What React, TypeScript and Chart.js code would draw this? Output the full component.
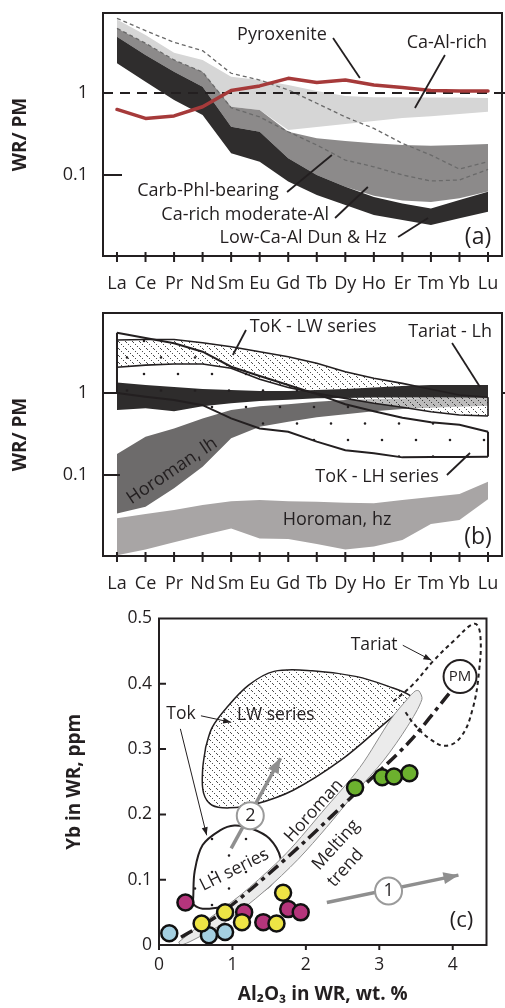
import React, { useEffect, useRef } from "react";
import { Chart, registerables } from "chart.js";

Chart.register(...registerables);

const FONT = "'Open Sans', 'Noto Sans', 'DejaVu Sans', sans-serif";
const INK = "#231f20";
const RED = "#a63a3a";

// ---------------- categories ----------------
const REE = ["La", "Ce", "Pr", "Nd", "Sm", "Eu", "Gd", "Tb", "Dy", "Ho", "Er", "Tm", "Yb", "Lu"];

// ---------------- panel (a): WR / PM ----------------
const pyroxenite = [0.63, 0.49, 0.525, 0.68, 1.07, 1.22, 1.51, 1.34, 1.44, 1.25, 1.17, 1.07, 1.06, 1.06];
const caAlRichTop = [7.9, 5.1, 3.1, 2.53, 1.58, 1.44, 1.25, 1.06, 0.92, 0.89, 0.89, 0.88, 0.88, 0.87];
const caAlRichBottom = [6.15, 4.04, 2.53, 1.82, 0.68, 0.62, 0.354, 0.385, 0.42, 0.455, 0.495, 0.52, 0.555, 0.59];
const caRichModTop = [6.15, 4.04, 2.53, 1.82, 0.68, 0.62, 0.337, 0.28, 0.26, 0.244, 0.232, 0.228, 0.232, 0.239];
const caRichModBottom = [4.86, 2.91, 1.82, 1.19, 0.388, 0.337, 0.16, 0.1, 0.072, 0.056, 0.049, 0.047, 0.052, 0.063];
const lowCaAlTop = [4.86, 2.91, 1.82, 1.19, 0.388, 0.337, 0.16, 0.1, 0.072, 0.054, 0.045, 0.039, 0.0496, 0.0626];
const lowCaAlBottom = [2.3, 1.37, 0.82, 0.54, 0.184, 0.145, 0.083, 0.057, 0.043, 0.0325, 0.0283, 0.0246, 0.0297, 0.0357];
const carbPhlUpper = [8.15, 5.75, 4.15, 3.28, 1.74, 1.44, 1.09, 0.75, 0.51, 0.37, 0.243, 0.175, 0.118, 0.145];
const carbPhlLower = [6.15, 4.04, 2.53, 1.8, 0.66, 0.51, 0.337, 0.232, 0.152, 0.126, 0.1, 0.0845, 0.087, 0.117];
const PM_LEVEL = 1;

// ---------------- panel (b) ----------------
const tariatTop = [1.34, 1.25, 1.18, 1.12, 1.09, 1.06, 1.06, 1.09, 1.12, 1.17, 1.22, 1.25, 1.25, 1.25];
const tariatBottom = [0.62, 0.65, 0.6, 0.69, 0.75, 0.8, 0.83, 0.86, 0.87, 0.88, 0.88, 0.88, 0.88, 0.876];
const horomanLhTop = [0.18, 0.293, 0.37, 0.49, 0.62, 0.69, 0.73, 0.78, 0.82, 0.845, 0.857, 0.87, 0.88, 0.894];
const horomanLhBottom = [0.034, 0.041, 0.069, 0.126, 0.28, 0.388, 0.447, 0.506, 0.55, 0.6, 0.64, 0.66, 0.68, 0.7];
const horomanHzTop = [0.0296, 0.0334, 0.0374, 0.043, 0.048, 0.0496, 0.048, 0.0472, 0.046, 0.0452, 0.0496, 0.054, 0.0587, 0.083];
const horomanHzBottom = [0.0105, 0.0123, 0.0151, 0.0184, 0.0223, 0.0168, 0.0166, 0.0144, 0.0123, 0.0134, 0.0161, 0.0253, 0.0283, 0.0505];
const lwTop = [4.43, 4.5, 4.5, 4.1, 3.67, 3.19, 2.77, 2.3, 1.82, 1.51, 1.31, 1.11, 0.945, 0.887];
const lwBottom = [2.06, 2.19, 2.26, 2.26, 2.0, 1.47, 1.17, 0.99, 0.86, 0.75, 0.67, 0.59, 0.54, 0.525];
const lhTop = [5.44, 4.69, 4.04, 3.19, 2.09, 1.61, 1.25, 0.97, 0.73, 0.6, 0.5, 0.44, 0.41, 0.337];
const lhBottom = [1.0, 0.9, 0.82, 0.71, 0.49, 0.37, 0.337, 0.255, 0.2, 0.184, 0.164, 0.166, 0.166, 0.167];

// ---------------- panel (c): Yb vs Al2O3 ----------------
const blueAl = [0.14, 0.68, 0.9];
const blueYb = [0.018, 0.015, 0.02];
const magentaAl = [0.36, 1.16, 1.42, 1.76, 1.93];
const magentaYb = [0.065, 0.05, 0.035, 0.055, 0.05];
const yellowAl = [0.58, 0.9, 1.13, 1.6, 1.69];
const yellowYb = [0.033, 0.05, 0.035, 0.033, 0.08];
const greenAl = [2.67, 3.04, 3.2, 3.41];
const greenYb = [0.241, 0.257, 0.258, 0.263];

const lwFieldAl = [0.636, 0.594, 0.606, 0.723, 0.961, 1.308, 1.827, 2.477, 3.039, 3.408, 3.421, 3.126, 2.694, 2.087, 1.567, 1.221, 0.918, 0.723];
const lwFieldYb = [0.303, 0.268, 0.233, 0.214, 0.21, 0.2155, 0.237, 0.283, 0.336, 0.373, 0.382, 0.396, 0.411, 0.42, 0.419, 0.398, 0.363, 0.333];
const lhFieldAl = [0.466, 0.486, 0.594, 0.831, 1.026, 1.265, 1.503, 1.655, 1.61, 1.48, 1.178, 0.853, 0.594, 0.466];
const lhFieldYb = [0.0726, 0.113, 0.153, 0.1755, 0.183, 0.178, 0.163, 0.133, 0.108, 0.0877, 0.0707, 0.0586, 0.0556, 0.063];
const horomanAl = [0.269, 0.555, 1.113, 1.594, 1.853, 2.217, 2.736, 3.165, 3.386, 3.49, 3.541, 3.58, 3.385, 3.061, 2.671, 2.281, 1.892, 1.438, 0.892, 0.463, 0.295];
const horomanYb = [0.0045, 0.03, 0.0767, 0.1248, 0.1549, 0.203, 0.272, 0.347, 0.377, 0.389, 0.389, 0.376, 0.335, 0.283, 0.233, 0.18, 0.131, 0.0827, 0.0346, 0.0075, 0.0];
const tariatAl = [3.191, 3.45, 3.736, 4.035, 4.295, 4.373, 4.36, 4.27, 4.113, 3.906, 3.684, 3.477, 3.347];
const tariatYb = [0.373, 0.398, 0.435, 0.468, 0.492, 0.477, 0.421, 0.361, 0.319, 0.305, 0.316, 0.338, 0.358];
const meltAl = [0.3, 0.8, 1.3, 2.0, 2.7, 3.4, 3.95];
const meltYb = [0.012, 0.045, 0.09, 0.16, 0.235, 0.31, 0.385];
const pmAl = [4.1];
const pmYb = [0.411];

// ---------------- axes ----------------
const REE_X_MIN = -0.49;
const REE_X_MAX = 13.49;
const LOG_MIN = 0.01028;
const LOG_MAX = 9.454;
const LOG_TICKS = [0.1, 1];
const AL_MIN = 0;
const AL_MAX = 4.46;
const AL_TICKS = [0, 1, 2, 3, 4];
const YB_MIN = 0;
const YB_MAX = 0.5;
const YB_TICKS = [0, 0.1, 0.2, 0.3, 0.4, 0.5];

// ---------------- annotations (data coordinates) ----------------
const leadersA = [
  [7.57, 4.69, 8.51, 1.52],
  [11.49, 2.91, 10.44, 0.656],
  [5.96, 0.0621, 7.53, 0.175],
  [7.64, 0.0299, 8.79, 0.0714],
  [9.85, 0.01754, 10.9, 0.0299],
];
const textsA = [
  { t: "Pyroxenite", x: 5.78, y: 5.1 },
  { t: "Ca-Al-rich", x: 11.56, y: 4.07 },
  { t: "Carb-Phl-bearing", x: 3.19, y: 0.0638 },
  { t: "Ca-rich moderate-Al", x: 4.49, y: 0.0325 },
  { t: "Low-Ca-Al Dun & Hz", x: 6.52, y: 0.0171 },
  { t: "(a)", x: 12.65, y: 0.0171, size: 23 },
];
const leadersB = [
  [4.52, 5.86, 4.06, 2.91],
  [11.74, 4.07, 12.72, 1.18],
  [11.56, 0.1, 12.37, 0.1855],
];
const textsB = [
  { t: "ToK - LW series", x: 6.87, y: 6.44 },
  { t: "Tariat - Lh", x: 11.67, y: 5.6 },
  { t: "ToK - LH series", x: 9.11, y: 0.0953 },
  { t: "Horoman, lh", x: 1.93, y: 0.112, rot: -34 },
  { t: "Horoman, hz", x: 7.71, y: 0.0283 },
  { t: "(b)", x: 12.65, y: 0.0171, size: 23 },
];
const grayArrowsC = [
  [2.286, 0.065, 4.078, 0.107],
  [0.983, 0.148, 1.655, 0.286],
];
const stepMarksC = [
  { t: "1", x: 3.126, y: 0.0827 },
  { t: "2", x: 1.243, y: 0.198 },
];
const leaderArrowsC = [
  [3.32, 0.459, 3.71, 0.436],
  [0.571, 0.351, 0.983, 0.341],
  [0.291, 0.331, 0.649, 0.168],
];
const textsC = [
  { t: "Tariat", x: 2.93, y: 0.459 },
  { t: "Tok", x: 0.3, y: 0.353 },
  { t: "LW series", x: 1.59, y: 0.352 },
  { t: "LH series", x: 1.026, y: 0.115, rot: -26.6 },
  { t: "Horoman", x: 2.109, y: 0.2056, rot: -48 },
  { t: "Melting", x: 2.41, y: 0.153, rot: -48 },
  { t: "trend", x: 2.54, y: 0.118, rot: -48 },
  { t: "(c)", x: 4.12, y: 0.0365, size: 22 },
  { t: "PM", x: pmAl[0], y: pmYb[0], size: 15 },
  { t: "1", x: 3.126, y: 0.0827, size: 18 },
  { t: "2", x: 1.243, y: 0.198, size: 18 },
];

// ---------------- helpers ----------------
const ree = (vals: number[]) => vals.map((y, i) => ({ x: i, y }));
const xy = (xs: number[], ys: number[]) => xs.map((x, i) => ({ x, y: ys[i] }));
const closed = (xs: number[], ys: number[]) => {
  const p = xy(xs, ys);
  return [...p, p[0]];
};

function makeDS() {
  const list: any[] = [];
  const add = (data: any[], o: any = {}) => {
    list.push({
      type: "line",
      data,
      pointRadius: 0,
      pointHoverRadius: 0,
      borderWidth: 0,
      borderColor: "transparent",
      backgroundColor: "transparent",
      fill: false,
      tension: 0,
      ...o,
      order: 1000 - list.length,
    });
    return list.length - 1;
  };
  const band = (top: number[], bottom: number[], color: any) => {
    const bi = add(ree(bottom));
    add(ree(top), { fill: bi, backgroundColor: color });
  };
  return { list, add, band };
}

function hatch(ctx: CanvasRenderingContext2D, bg: string | null) {
  const c = document.createElement("canvas");
  c.width = 7;
  c.height = 7;
  const g = c.getContext("2d")!;
  if (bg) {
    g.fillStyle = bg;
    g.fillRect(0, 0, 7, 7);
  }
  g.fillStyle = "rgba(30,30,30,0.8)";
  for (let i = 0; i < 7; i += 2) g.fillRect(i, i, 1, 1);
  return ctx.createPattern(c, "repeat");
}

function dotPattern(ctx: CanvasRenderingContext2D) {
  const c = document.createElement("canvas");
  c.width = 34;
  c.height = 33;
  const g = c.getContext("2d")!;
  g.fillStyle = INK;
  g.beginPath();
  g.arc(8, 8, 1.3, 0, Math.PI * 2);
  g.closePath();
  g.arc(25, 24.5, 1.3, 0, Math.PI * 2);
  g.fill();
  return ctx.createPattern(c, "repeat");
}

function decor(d: any) {
  return {
    id: "decor",
    afterDatasetsDraw(chart: any) {
      const { ctx, chartArea: a } = chart;
      const xs = chart.scales.x;
      const ys = chart.scales.y;
      ctx.save();
      ctx.strokeStyle = INK;
      ctx.lineWidth = 2;
      ctx.strokeRect(a.left, a.top, a.right - a.left, a.bottom - a.top);
      ctx.beginPath();
      for (const v of d.xTicks) {
        const p = xs.getPixelForValue(v);
        ctx.moveTo(p, a.bottom - d.xIn);
        ctx.lineTo(p, a.bottom + d.xOut);
      }
      for (const v of d.yTicks) {
        const p = ys.getPixelForValue(v);
        ctx.moveTo(a.left, p);
        ctx.lineTo(a.left + d.yIn, p);
      }
      for (const v of d.rTicks || []) {
        const p = ys.getPixelForValue(v);
        ctx.moveTo(a.right, p);
        ctx.lineTo(a.right + 5, p);
      }
      ctx.stroke();
      for (const h of d.heads || []) {
        const x1 = xs.getPixelForValue(h.a[0]);
        const y1 = ys.getPixelForValue(h.a[1]);
        const x2 = xs.getPixelForValue(h.a[2]);
        const y2 = ys.getPixelForValue(h.a[3]);
        const ang = Math.atan2(y2 - y1, x2 - x1);
        ctx.fillStyle = h.color;
        ctx.beginPath();
        ctx.moveTo(x2, y2);
        ctx.lineTo(x2 - h.len * Math.cos(ang) + h.half * Math.sin(ang), y2 - h.len * Math.sin(ang) - h.half * Math.cos(ang));
        ctx.lineTo(x2 - h.len * Math.cos(ang) - h.half * Math.sin(ang), y2 - h.len * Math.sin(ang) + h.half * Math.cos(ang));
        ctx.closePath();
        ctx.fill();
      }
      ctx.fillStyle = INK;
      ctx.textAlign = "center";
      ctx.textBaseline = "middle";
      for (const t of d.texts) {
        const px = xs.getPixelForValue(t.x);
        const py = ys.getPixelForValue(t.y);
        ctx.save();
        ctx.translate(px, py);
        if (t.rot) ctx.rotate((t.rot * Math.PI) / 180);
        ctx.font = `${t.bold ? "bold " : ""}${t.size || d.size}px ${FONT}`;
        ctx.fillText(t.t, 0, 0);
        ctx.restore();
      }
      ctx.restore();
    },
  };
}

function baseOptions(padding: any, scales: any) {
  return {
    responsive: false,
    animation: false,
    devicePixelRatio: 1,
    events: [],
    layout: { padding },
    plugins: { legend: { display: false }, tooltip: { enabled: false } },
    scales,
  };
}

const fixX = (h: number) => (s: any) => {
  s.height = h;
  s.paddingLeft = 0;
  s.paddingRight = 0;
  s.paddingTop = 0;
  s.paddingBottom = 0;
};
const fixY = (w: number) => (s: any) => {
  s.width = w;
  s.paddingLeft = 0;
  s.paddingRight = 0;
  s.paddingTop = 0;
  s.paddingBottom = 0;
};

function reeScales() {
  return {
    x: {
      type: "linear",
      min: REE_X_MIN,
      max: REE_X_MAX,
      grid: { display: false, drawTicks: false },
      border: { display: false },
      afterBuildTicks: (s: any) => {
        s.ticks = REE.map((_, i) => ({ value: i }));
      },
      afterFit: fixX(44),
      ticks: {
        autoSkip: false,
        maxRotation: 0,
        minRotation: 0,
        padding: 17,
        color: INK,
        font: { family: FONT, size: 18 },
        callback: (_v: any, i: number) => REE[i],
      },
    },
    y: {
      type: "logarithmic",
      min: LOG_MIN,
      max: LOG_MAX,
      grid: { display: false, drawTicks: false },
      border: { display: false },
      afterBuildTicks: (s: any) => {
        s.ticks = LOG_TICKS.map((v) => ({ value: v }));
      },
      afterFit: fixY(103),
      ticks: {
        padding: 15,
        color: INK,
        font: { family: FONT, size: 18 },
        callback: (v: number) => (v >= 1 ? "1" : "0.1"),
      },
      title: {
        display: true,
        text: "WR/ PM",
        color: INK,
        font: { family: FONT, size: 19, weight: "bold" },
        padding: { top: 9, bottom: 0 },
      },
    },
  };
}

function buildA(ctx: CanvasRenderingContext2D) {
  const d = makeDS();
  d.band(caAlRichTop, caAlRichBottom, "#d6d6d6");
  d.band(caRichModTop, caRichModBottom, "#8c8a8a");
  d.band(lowCaAlTop, lowCaAlBottom, "#2f2d2d");
  d.add(ree(carbPhlUpper), { borderColor: "#6a6a6a", borderWidth: 1.3, borderDash: [4, 3] });
  d.add(ree(carbPhlLower), { borderColor: "#6a6a6a", borderWidth: 1.3, borderDash: [4, 3] });
  d.add(
    [
      { x: REE_X_MIN, y: PM_LEVEL },
      { x: REE_X_MAX, y: PM_LEVEL },
    ],
    { borderColor: INK, borderWidth: 2.2, borderDash: [10, 7] }
  );
  d.add(ree(pyroxenite), { borderColor: RED, borderWidth: 3.5, borderJoinStyle: "round", borderCapStyle: "round" });
  for (const l of leadersA)
    d.add(
      [
        { x: l[0], y: l[1] },
        { x: l[2], y: l[3] },
      ],
      { borderColor: INK, borderWidth: 1.8 }
    );
  return {
    type: "line",
    data: { datasets: d.list },
    options: baseOptions({ top: 13, right: 3, left: 0, bottom: 0 }, reeScales()),
    plugins: [
      decor({ xTicks: REE.map((_, i) => i), xIn: 4, xOut: 6, yTicks: [0.1], yIn: 19, rTicks: [1], texts: textsA, size: 18 }),
    ],
  };
}

function buildB(ctx: CanvasRenderingContext2D) {
  const d = makeDS();
  d.band(horomanHzTop, horomanHzBottom, "#a8a5a5");
  d.band(horomanLhTop, horomanLhBottom, "#6d6b6b");
  d.band(lwTop, lwBottom, hatch(ctx, "rgba(255,255,255,0.55)"));
  d.band(tariatTop, tariatBottom, "#2e2c2c");
  d.band(lhTop, lhBottom, dotPattern(ctx));
  const outline = { borderColor: INK, borderWidth: 1.6 };
  d.add(ree(lwTop), outline);
  d.add(ree(lwBottom), outline);
  d.add(
    [
      { x: 0, y: lwTop[0] },
      { x: 0, y: lwBottom[0] },
    ],
    outline
  );
  d.add(
    [
      { x: 13, y: lwTop[13] },
      { x: 13, y: lwBottom[13] },
    ],
    outline
  );
  const outline2 = { borderColor: INK, borderWidth: 2 };
  d.add(ree(lhTop), outline2);
  d.add(ree(lhBottom), outline2);
  d.add(
    [
      { x: 0, y: lhTop[0] },
      { x: 0, y: lhBottom[0] },
    ],
    outline2
  );
  d.add(
    [
      { x: 13, y: lhTop[13] },
      { x: 13, y: lhBottom[13] },
    ],
    outline2
  );
  for (const l of leadersB)
    d.add(
      [
        { x: l[0], y: l[1] },
        { x: l[2], y: l[3] },
      ],
      { borderColor: INK, borderWidth: 1.8 }
    );
  return {
    type: "line",
    data: { datasets: d.list },
    options: baseOptions({ top: 13, right: 3, left: 0, bottom: 0 }, reeScales()),
    plugins: [
      decor({ xTicks: REE.map((_, i) => i), xIn: 4, xOut: 6, yTicks: [0.1, 1], yIn: 17, rTicks: [1], texts: textsB, size: 18 }),
    ],
  };
}

function buildC(ctx: CanvasRenderingContext2D) {
  const d = makeDS();
  d.add(closed(lwFieldAl, lwFieldYb), { fill: "shape", backgroundColor: hatch(ctx, "#ffffff"), borderColor: INK, borderWidth: 1.5, tension: 0.35 });
  d.add(closed(lhFieldAl, lhFieldYb), { fill: "shape", backgroundColor: dotPattern(ctx), borderColor: INK, borderWidth: 2, tension: 0.35 });
  d.add(closed(horomanAl, horomanYb), { fill: "shape", backgroundColor: "#ebebeb", borderColor: "#8e8e8e", borderWidth: 1, tension: 0.3 });
  d.add(xy(tariatAl, tariatYb), { borderColor: INK, borderWidth: 2, borderDash: [4, 3.5], tension: 0.4 });
  d.add(xy(meltAl, meltYb), { borderColor: INK, borderWidth: 3.5, borderDash: [13, 5, 4, 5], tension: 0.3 });
  for (const l of grayArrowsC)
    d.add(
      [
        { x: l[0], y: l[1] },
        { x: l[2], y: l[3] },
      ],
      { borderColor: "#8f8f8f", borderWidth: 3.5 }
    );
  d.add(
    stepMarksC.map((s) => ({ x: s.x, y: s.y })),
    { showLine: false, pointRadius: 13.5, pointBackgroundColor: "#fff", pointBorderColor: "#9a9a9a", pointBorderWidth: 2 }
  );
  for (const l of leaderArrowsC)
    d.add(
      [
        { x: l[0], y: l[1] },
        { x: l[2], y: l[3] },
      ],
      { borderColor: INK, borderWidth: 1 }
    );
  d.add(xy(pmAl, pmYb), { showLine: false, pointRadius: 16.5, pointBackgroundColor: "#fff", pointBorderColor: INK, pointBorderWidth: 2 });
  const pt = (color: string) => ({
    showLine: false,
    pointRadius: 8,
    pointBackgroundColor: color,
    pointBorderColor: "#111",
    pointBorderWidth: 2.5,
  });
  d.add(xy(magentaAl, magentaYb), pt("#b5357c"));
  d.add(xy(blueAl, blueYb), pt("#a4d0e1"));
  d.add(xy(yellowAl, yellowYb), pt("#ede445"));
  d.add(xy(greenAl, greenYb), pt("#6cb12e"));

  const heads = [
    ...grayArrowsC.map((a) => ({ a, len: 15, half: 6, color: "#8f8f8f" })),
    ...leaderArrowsC.map((a) => ({ a, len: 8, half: 3, color: INK })),
  ];

  const scales = {
    x: {
      type: "linear",
      min: AL_MIN,
      max: AL_MAX,
      grid: { display: false, drawTicks: false },
      border: { display: false },
      afterBuildTicks: (s: any) => {
        s.ticks = AL_TICKS.map((v) => ({ value: v }));
      },
      afterFit: fixX(63),
      ticks: { padding: 10, color: INK, font: { family: FONT, size: 17.5 }, maxRotation: 0, autoSkip: false, callback: (v: number) => String(v) },
      title: {
        display: true,
        text: "Al\u2082O\u2083 in WR, wt. %",
        color: INK,
        font: { family: FONT, size: 19, weight: "bold" },
        padding: { top: 0, bottom: 2 },
      },
    },
    y: {
      type: "linear",
      min: YB_MIN,
      max: YB_MAX,
      grid: { display: false, drawTicks: false },
      border: { display: false },
      afterBuildTicks: (s: any) => {
        s.ticks = YB_TICKS.map((v) => ({ value: v }));
      },
      afterFit: fixY(159),
      ticks: { padding: 7, color: INK, font: { family: FONT, size: 17.5 }, callback: (v: number) => (v === 0 ? "0" : v.toFixed(1)) },
      title: {
        display: true,
        text: "Yb in WR, ppm",
        color: INK,
        font: { family: FONT, size: 19, weight: "bold" },
        padding: { top: 63, bottom: 0 },
      },
    },
  };
  return {
    type: "line",
    data: { datasets: d.list },
    options: baseOptions({ top: 16, right: 2, left: 0, bottom: 0 }, scales),
    plugins: [decor({ xTicks: AL_TICKS, xIn: 0, xOut: 5, yTicks: YB_TICKS.slice(1, 5), yIn: 7, texts: textsC, heads, size: 17.5 })],
  };
}

function ChartCanvas({ top, height, build }: { top: number; height: number; build: (c: CanvasRenderingContext2D) => any }) {
  const ref = useRef<HTMLCanvasElement>(null);
  useEffect(() => {
    const cv = ref.current!;
    const ctx = cv.getContext("2d")!;
    const chart = new Chart(ctx, build(ctx));
    return () => chart.destroy();
  }, []);
  return (
    <canvas
      ref={ref}
      width={505}
      height={height}
      style={{ position: "absolute", left: 0, top, width: 505, height, display: "block" }}
    />
  );
}

export default function App() {
  return (
    <div style={{ position: "absolute", left: 0, top: 0, width: 505, height: 1008, background: "#fff" }}>
      <ChartCanvas top={0} height={300} build={buildA} />
      <ChartCanvas top={300} height={300} build={buildB} />
      <ChartCanvas top={600} height={408} build={buildC} />
    </div>
  );
}
